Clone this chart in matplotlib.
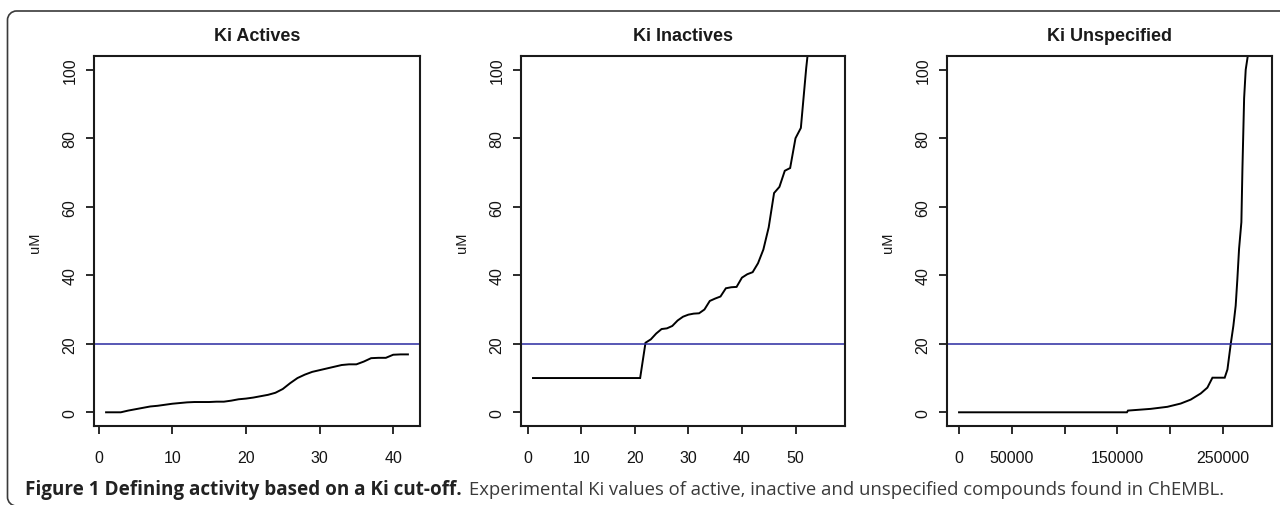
import numpy as np
import matplotlib
matplotlib.use("Agg")
import matplotlib.pyplot as plt
from matplotlib import font_manager
from matplotlib.path import Path
from matplotlib.patches import PathPatch
from matplotlib.transforms import IdentityTransform

# ---------------- data ----------------
titles = ["Ki Actives", "Ki Inactives", "Ki Unspecified"]
ylabel = "uM"
cutoff = 20

actives_y = [0, 0, 0, 0.5, 0.9, 1.3, 1.7, 1.9, 2.2, 2.5, 2.7, 2.9, 3.0, 3.0, 3.0,
             3.1, 3.1, 3.4, 3.8, 4.0, 4.3, 4.7, 5.1, 5.7, 6.8, 8.5, 10.0, 11.0,
             11.8, 12.3, 12.8, 13.3, 13.8, 14.0, 14.0, 14.8, 15.8, 15.9, 15.9,
             16.8, 16.9, 16.9]
actives_x = list(range(1, len(actives_y) + 1))

inactives_y = [10] * 21 + [20.3, 21.3, 23.0, 24.3, 24.5, 25.2, 26.8, 27.9, 28.5,
                           28.8, 28.9, 30.0, 32.5, 33.2, 33.8, 36.2, 36.5, 36.6,
                           39.3, 40.3, 40.9, 43.5, 47.5, 54.0, 64.0, 65.8, 70.5,
                           71.3, 80.0, 83.0, 100.5, 115, 130, 160, 200, 300]
inactives_x = list(range(1, len(inactives_y) + 1))

unspec_x = [1, 134000, 159000, 160000, 181500, 197300, 209900, 219400, 228900,
            235200, 240000, 251600, 254200, 257300, 259800, 262000, 263600,
            265200, 267400, 268400, 270000, 271500, 273700, 285000]
unspec_y = [0, 0, 0, 0.5, 1.0, 1.6, 2.55, 3.7, 5.5, 7.2, 10.1, 10.1, 12.5, 19.9,
            25.2, 31.1, 38.9, 47.7, 55.5, 71.2, 91.7, 100, 104.5, 1000]

yticks = [0, 20, 40, 60, 80, 100]
xticks_list = [[0, 10, 20, 30, 40],
               [0, 10, 20, 30, 40, 50],
               [0, 50000, 100000, 150000, 200000, 250000]]
xticklabels_list = [["0", "10", "20", "30", "40"],
                    ["0", "10", "20", "30", "40", "50"],
                    ["0", "50000", "", "150000", "", "250000"]]

caption_bold = "Figure 1 Defining activity based on a Ki cut-off."
caption_rest = "Experimental Ki values of active, inactive and unspecified compounds found in ChEMBL."


def has_font(name):
    try:
        font_manager.findfont(name, fallback_to_default=False)
        return True
    except Exception:
        return False


tick_font = "Liberation Sans Narrow" if has_font("Liberation Sans Narrow") else "Liberation Sans"
tick_size = 13 if tick_font == "Liberation Sans Narrow" else 11.5
cap_font = "Open Sans" if has_font("Open Sans") else "DejaVu Sans"

W, H = 1280, 506
fig = plt.figure(figsize=(W / 100, H / 100), dpi=100)

# frame around the figure: left edge and top edge with rounded corners (pixel coords, origin bottom-left)
rad = 9
k = 0.5523 * rad
x0, ytop = 7.5, H - 12
ybot = -1
verts = [(W + 5, ytop), (x0 + rad, ytop),
         (x0 + rad - k, ytop), (x0, ytop - rad + k), (x0, ytop - rad),
         (x0, ybot + rad),
         (x0, ybot + rad - k), (x0 + rad - k, ybot), (x0 + rad, ybot)]
codes = [Path.MOVETO, Path.LINETO, Path.CURVE4, Path.CURVE4, Path.CURVE4,
         Path.LINETO, Path.CURVE4, Path.CURVE4, Path.CURVE4]
frame = PathPatch(Path(verts, codes), transform=IdentityTransform(), fill=False,
                  edgecolor="#3a3a3a", linewidth=1.2)
fig.patches.append(frame)

panels = [(94, 420), (521, 845), (947, 1272)]
ax_top, ax_bot = 57, 427
series = [(actives_x, actives_y), (inactives_x, inactives_y), (unspec_x, unspec_y)]

for i, ((l, r), (xs, ys)) in enumerate(zip(panels, series)):
    ax = fig.add_axes([l / W, (H - ax_bot) / H, (r - l) / W, (ax_bot - ax_top) / H])
    ax.plot(xs, ys, color="black", linewidth=1.4, solid_joinstyle="miter")
    ax.axhline(cutoff, color="#2a2aa0", linewidth=1.1)
    ax.set_xlim(min(xs) - 0.04 * (max(xs) - min(xs)), max(xs) + 0.04 * (max(xs) - min(xs)))
    ax.set_ylim(-4, 104)
    ax.set_yticks(yticks)
    ax.set_yticklabels([str(v) for v in yticks], rotation=90, va="center",
                       fontfamily=tick_font, fontsize=tick_size)
    ax.set_xticks(xticks_list[i])
    ax.set_xticklabels(xticklabels_list[i], fontfamily=tick_font, fontsize=tick_size)
    ax.tick_params(axis="both", direction="out", length=6, width=1.3, color="#1a1a1a",
                   labelcolor="#141414")
    ax.tick_params(axis="x", pad=11)
    ax.tick_params(axis="y", pad=6)
    for s in ax.spines.values():
        s.set_linewidth(1.5)
        s.set_color("#1a1a1a")
    ax.text(0.5, (ax_bot - 36.5) / (ax_bot - ax_top), titles[i], transform=ax.transAxes,
            ha="center", va="center", fontfamily="Liberation Sans", fontweight="bold",
            fontsize=13, color="#1a1a1a")
    fig.text((l - 59) / W, (H - 243) / H, ylabel, rotation=90, ha="center", va="center",
             fontfamily="Liberation Sans", fontsize=10.5, color="#1a1a1a")

# caption with width fitted to the reference layout
t1 = fig.text(25 / W, (H - 495) / H, caption_bold, fontfamily=cap_font, fontweight="bold",
              fontsize=12, color="#222222", ha="left", va="baseline")
t2 = fig.text(469 / W, (H - 495) / H, caption_rest, fontfamily=cap_font,
              fontsize=12, color="#3a3a3a", ha="left", va="baseline")
fig.canvas.draw()
r = fig.canvas.get_renderer()
w1 = t1.get_window_extent(r).width
w2 = t2.get_window_extent(r).width
t1.set_fontsize(12 * (463 - 25) / w1)
t2.set_fontsize(12 * (1221 - 469) / w2)

fig.savefig("out.png", dpi=100, facecolor="white")
